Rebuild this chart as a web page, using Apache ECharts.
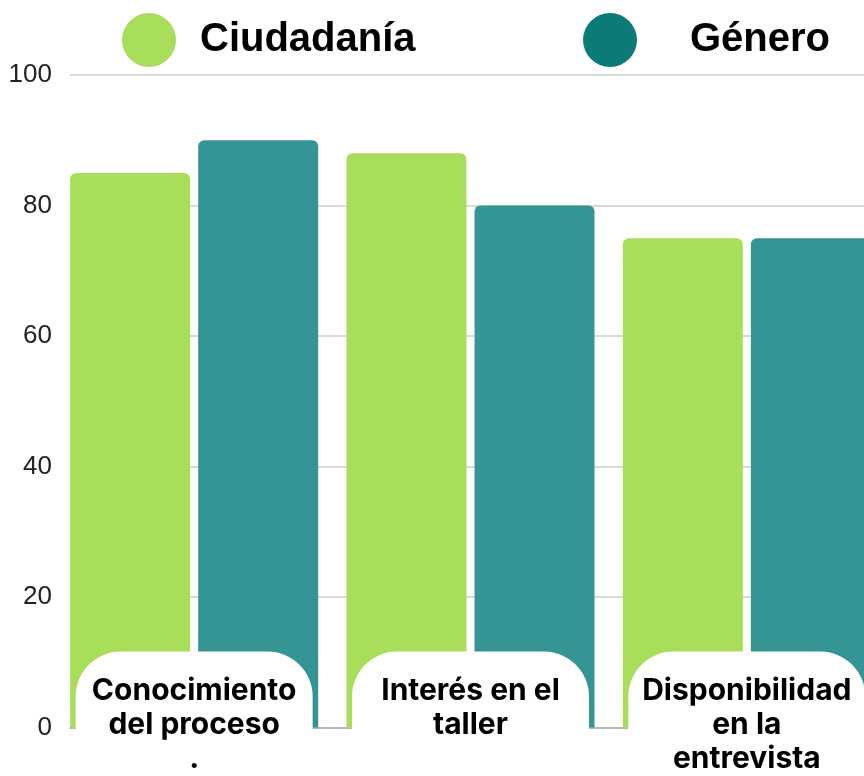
<!DOCTYPE html>
<html>
<head>
<meta charset="utf-8">
<script src="https://cdn.jsdelivr.net/npm/echarts@6/dist/echarts.min.js"></script>
<style>
  html, body { margin: 0; padding: 0; background: #fff; }
  #main { width: 864px; height: 776px; }
</style>
</head>
<body>
<div id="main"></div>
<script>
// datos del gráfico
const categories = ['Conocimiento\ndel proceso\n.', 'Interés en el\ntaller', 'Disponibilidad\nen la\nentrevista']
const ciudadania = [85, 88, 75]
const genero = [90, 80, 75]
const yMin = 0
const yMax = 100
const yStep = 20

const myChart = echarts.init(document.getElementById('main'))

const option = {
  backgroundColor: '#ffffff',
  animation: false,
  legend: [
    {
      left: 122,
      top: 13,
      padding: 0,
      icon: 'circle',
      itemWidth: 54,
      itemHeight: 54,
      data: [{ name: 'Ciudadanía', itemStyle: { color: '#a8de5a' } }],
      textStyle: { fontFamily: 'Liberation Sans', fontWeight: 'bold', fontSize: 40, color: '#000', padding: [0, 0, 0, 19] }
    },
    {
      left: 583,
      top: 13,
      padding: 0,
      icon: 'circle',
      itemWidth: 54,
      itemHeight: 54,
      data: [{ name: 'Género', itemStyle: { color: '#0c7b77' } }],
      textStyle: { fontFamily: 'Liberation Sans', fontWeight: 'bold', fontSize: 40, color: '#000', padding: [0, 0, 0, 48] }
    }
  ],
  grid: [
    // rejilla de fondo (líneas y eje y)
    { left: 70, right: 0, top: 75, bottom: 48.5, outerBoundsMode: 'none', containLabel: false },
    // barras
    { left: 56, right: -21, top: 75, bottom: 48.5, outerBoundsMode: 'none', containLabel: false }
  ],
  xAxis: [
    {
      gridIndex: 0,
      type: 'category',
      data: categories,
      axisLine: { show: true, lineStyle: { color: '#aaaaaa', width: 1.5 } },
      axisTick: { show: false },
      axisLabel: { show: false }
    },
    {
      gridIndex: 1,
      type: 'category',
      data: categories,
      z: 10,
      axisLine: { show: false },
      axisTick: { show: false },
      axisLabel: {
        margin: -76,
        interval: 0,
        width: 237,
        height: 140,
        padding: [22, 0, 0, 0],
        lineHeight: 34,
        align: 'center',
        verticalAlign: 'top',
        backgroundColor: '#ffffff',
        borderRadius: 45,
        fontFamily: 'Inter',
        fontWeight: 'bold',
        fontSize: 30,
        color: '#000000'
      }
    }
  ],
  yAxis: [
    {
      gridIndex: 0,
      type: 'value',
      min: yMin,
      max: yMax,
      interval: yStep,
      axisLine: { show: false },
      axisTick: { show: false },
      splitLine: { lineStyle: { color: '#cccccc', width: 1.5 } },
      axisLabel: { margin: 18, fontFamily: 'Liberation Sans', fontSize: 26, color: '#222222' }
    },
    {
      gridIndex: 1,
      type: 'value',
      min: yMin,
      max: yMax,
      interval: yStep,
      show: false
    }
  ],
  series: [
    {
      name: 'Ciudadanía',
      type: 'bar',
      xAxisIndex: 1,
      yAxisIndex: 1,
      data: ciudadania,
      barWidth: 120,
      barGap: '6.7%',
      itemStyle: { color: '#a8de5a', borderRadius: [6, 6, 0, 0] }
    },
    {
      name: 'Género',
      type: 'bar',
      xAxisIndex: 1,
      yAxisIndex: 1,
      data: genero,
      barWidth: 120,
      barGap: '6.7%',
      itemStyle: { color: '#349594', borderRadius: [6, 6, 0, 0] }
    }
  ]
}

myChart.setOption(option)
</script>
</body>
</html>
